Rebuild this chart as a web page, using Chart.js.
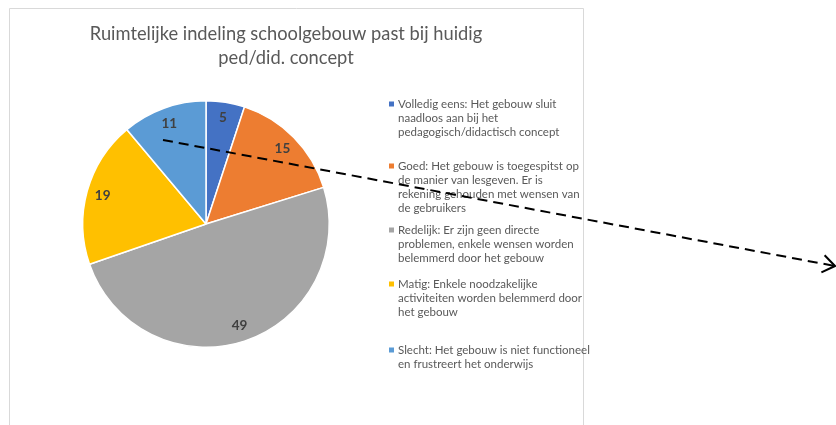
<!DOCTYPE html>
<html>
<head>
<meta charset="utf-8">
<script src="https://cdn.jsdelivr.net/npm/chart.js@4/dist/chart.umd.min.js"></script>
<style>
  html, body { margin: 0; padding: 0; background: #fff; }
  #wrap { position: relative; width: 836px; height: 425px; }
</style>
</head>
<body>
<div id="wrap"><canvas id="c" width="836" height="425"></canvas></div>
<script>
// Survey: how well does the school building layout fit the current ped/did. concept
const titleLines = ['Ruimtelijke indeling schoolgebouw past bij huidig', 'ped/did. concept'];
const categories = [
  ['Volledig eens: Het gebouw sluit', 'naadloos aan bij het', 'pedagogisch/didactisch concept'],
  ['Goed: Het gebouw is toegespitst op', 'de manier van lesgeven. Er is', 'rekening gehouden met wensen van', 'de gebruikers'],
  ['Redelijk: Er zijn geen directe', 'problemen, enkele wensen worden', 'belemmerd door het gebouw'],
  ['Matig: Enkele noodzakelijke', 'activiteiten worden belemmerd door', 'het gebouw'],
  ['Slecht: Het gebouw is niet functioneel', 'en frustreert het onderwijs']
];
const counts = [5, 15, 49, 19, 11];
const sliceColors = ['#4472C4', '#ED7D31', '#A5A5A5', '#FFC000', '#5B9BD5'];

const FONT = 'Lato, "Open Sans", sans-serif';

const decorations = {
  id: 'decorations',
  beforeDraw(chart) {
    const ctx = chart.ctx;
    ctx.save();
    ctx.fillStyle = '#ffffff';
    ctx.fillRect(0, 0, chart.width, chart.height);
    // chart frame
    ctx.strokeStyle = '#d9d9d9';
    ctx.lineWidth = 1;
    ctx.beginPath();
    ctx.moveTo(9.5, chart.height);
    ctx.lineTo(9.5, 8.5);
    ctx.lineTo(583.5, 8.5);
    ctx.lineTo(583.5, chart.height);
    ctx.stroke();
    ctx.restore();
  },
  afterDatasetsDraw(chart) {
    // value labels inside the slices
    const ctx = chart.ctx;
    const meta = chart.getDatasetMeta(0);
    const values = chart.data.datasets[0].data;
    ctx.save();
    ctx.font = 'bold 13.5px ' + FONT;
    ctx.fillStyle = '#404040';
    ctx.textAlign = 'center';
    ctx.textBaseline = 'middle';
    meta.data.forEach((arc, i) => {
      const p = arc.getProps(['x', 'y', 'startAngle', 'endAngle', 'outerRadius'], true);
      const mid = (p.startAngle + p.endAngle) / 2;
      const r = p.outerRadius * 0.87;
      ctx.fillText(String(values[i]), p.x + Math.cos(mid) * r, p.y + Math.sin(mid) * r);
    });
    ctx.restore();
  },
  afterDraw(chart) {
    const ctx = chart.ctx;
    ctx.save();
    // title
    ctx.fillStyle = '#595959';
    ctx.font = '18.3px ' + FONT;
    ctx.textAlign = 'center';
    ctx.textBaseline = 'middle';
    ctx.fillText(titleLines[0], 286, 34);
    ctx.fillText(titleLines[1], 286, 58);

    // legend
    const labels = chart.data.labels;
    const colors = chart.data.datasets[0].backgroundColor;
    const firstLineY = [104, 166, 230, 284, 350];
    ctx.font = '11.5px ' + FONT;
    ctx.textAlign = 'left';
    labels.forEach((lines, i) => {
      ctx.fillStyle = colors[i];
      ctx.fillRect(389, firstLineY[i] - 2.5, 5, 5);
      ctx.fillStyle = '#595959';
      lines.forEach((t, j) => ctx.fillText(t, 398, firstLineY[i] + j * 14));
    });

    // dashed arrow
    const x0 = 163, y0 = 140, x1 = 835, y1 = 266;
    ctx.strokeStyle = '#000000';
    ctx.lineWidth = 2;
    ctx.setLineDash([10, 6]);
    ctx.beginPath();
    ctx.moveTo(x0, y0);
    ctx.lineTo(x1, y1);
    ctx.stroke();
    ctx.setLineDash([]);
    const ang = Math.atan2(y1 - y0, x1 - x0);
    const len = 15, spread = 0.62;
    ctx.beginPath();
    ctx.moveTo(x1 - len * Math.cos(ang - spread), y1 - len * Math.sin(ang - spread));
    ctx.lineTo(x1, y1);
    ctx.lineTo(x1 - len * Math.cos(ang + spread), y1 - len * Math.sin(ang + spread));
    ctx.stroke();
    ctx.restore();
  }
};

new Chart(document.getElementById('c'), {
  type: 'pie',
  data: {
    labels: categories,
    datasets: [{
      data: counts,
      backgroundColor: sliceColors,
      borderColor: '#ffffff',
      borderWidth: 1.5
    }]
  },
  options: {
    responsive: false,
    animation: false,
    layout: { padding: { left: 82, right: 506, top: 100, bottom: 77 } },
    plugins: {
      legend: { display: false },
      tooltip: { enabled: false },
      title: { display: false }
    }
  },
  plugins: [decorations]
});
</script>
</body>
</html>
